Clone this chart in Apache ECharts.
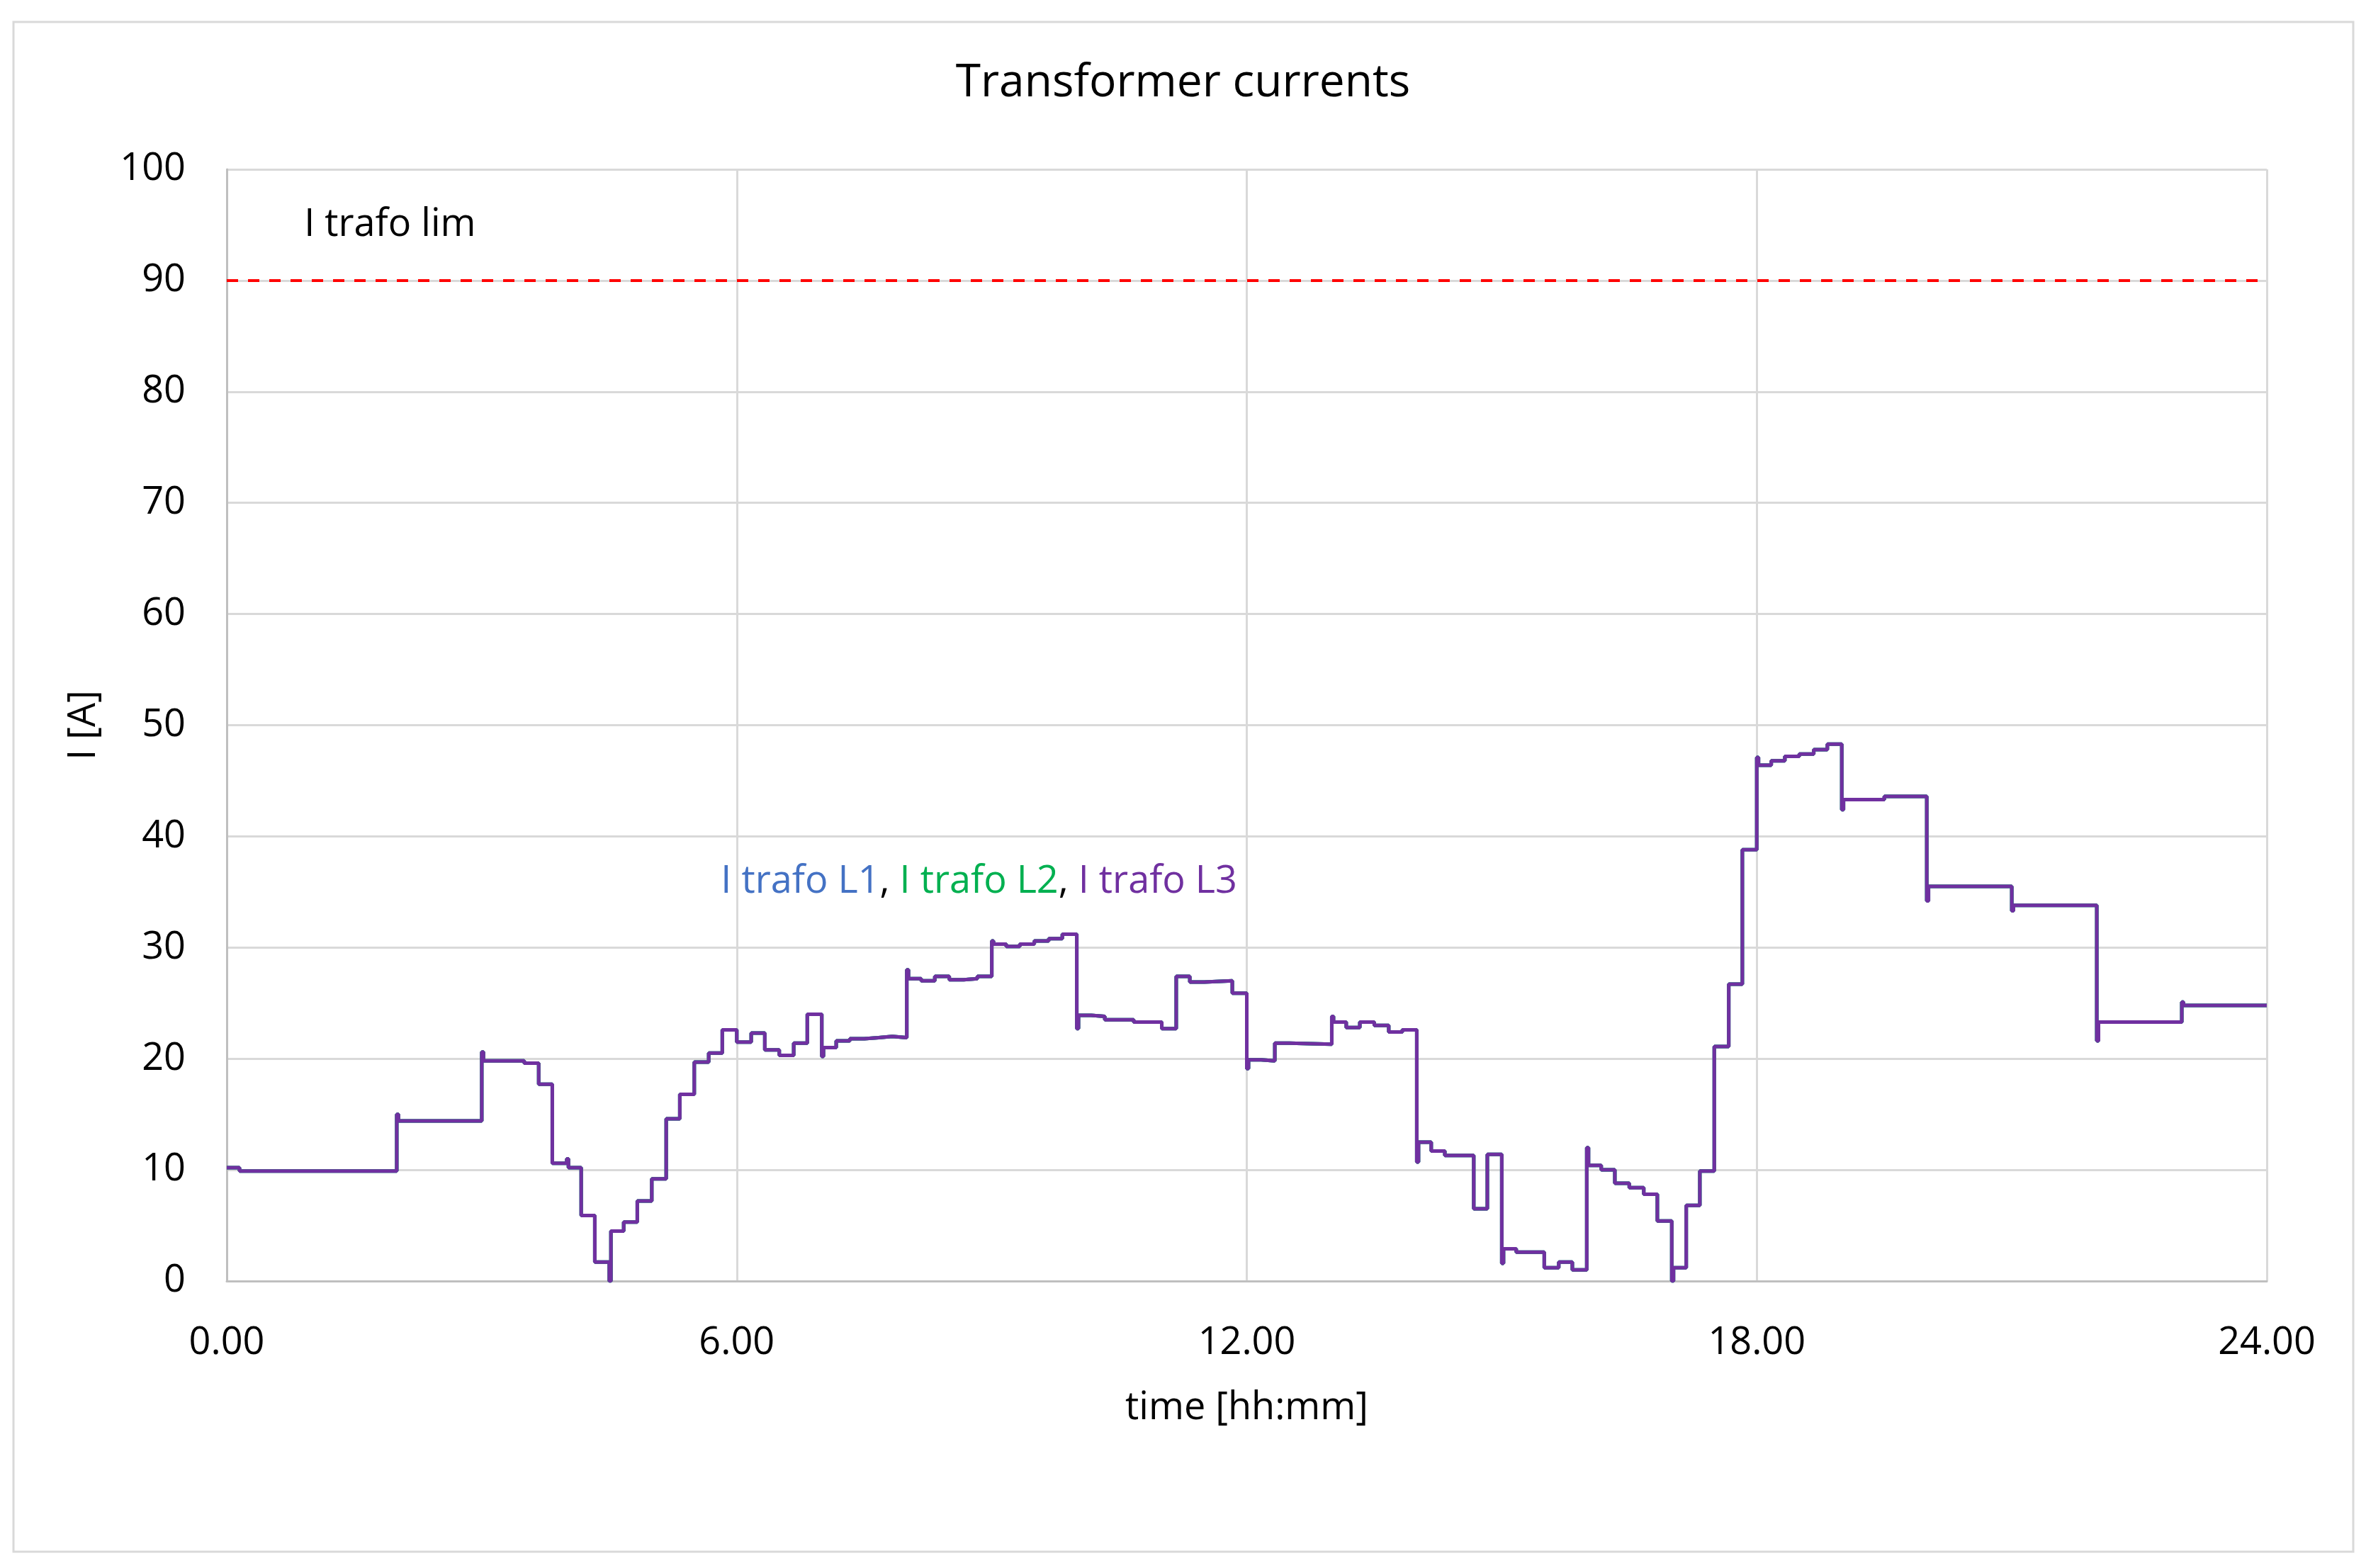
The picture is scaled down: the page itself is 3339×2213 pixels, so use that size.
<!DOCTYPE html>
<html>
<head>
<meta charset="utf-8">
<script src="https://cdn.jsdelivr.net/npm/echarts@6/dist/echarts.min.js"></script>
<style>
html,body{margin:0;padding:0;background:#fff;}
#chart{width:3339px;height:2213px;}
</style>
</head>
<body>
<div id="chart"></div>
<script>
// ---- data (time in hours, current in A; each value holds from its time until the next) ----
const timesH = [
  0.00, 0.15, 2.00, 2.02, 3.00, 3.02, 3.50, 3.67, 3.83, 4.00, 4.02, 4.17, 4.33, 4.50, 4.52,
  4.67, 4.83, 5.00, 5.17, 5.33, 5.50, 5.67, 5.83, 6.00, 6.17, 6.33, 6.50, 6.67, 6.83,
  7.00, 7.02, 7.17, 7.33, 7.50, 7.67, 7.83, 8.00, 8.02, 8.17, 8.33, 8.50, 8.67, 8.83,
  9.00, 9.02, 9.17, 9.33, 9.50, 9.67, 9.83, 10.00, 10.02, 10.17, 10.33, 10.67, 11.00,
  11.17, 11.33, 11.50, 11.83, 12.00, 12.02, 12.17, 12.33, 12.50, 13.00, 13.02, 13.17,
  13.33, 13.50, 13.67, 13.83, 14.00, 14.02, 14.17, 14.33, 14.67, 14.83, 15.00, 15.02,
  15.17, 15.50, 15.67, 15.83, 16.00, 16.02, 16.17, 16.33, 16.50, 16.67, 16.83, 17.00,
  17.02, 17.17, 17.33, 17.50, 17.67, 17.83, 18.00, 18.02, 18.17, 18.33, 18.50, 18.67,
  18.83, 19.00, 19.02, 19.50, 20.00, 20.02, 21.00, 21.02, 22.00, 22.02, 23.00, 23.02, 24.00
];
const iTrafoPhases = [
  10.2, 9.9, 15.0, 14.4, 20.6, 19.8, 19.6, 17.7, 10.6, 11.0, 10.2, 5.9, 1.7, 0.0, 4.5,
  5.3, 7.2, 9.2, 14.6, 16.8, 19.7, 20.5, 22.6, 21.5, 22.3, 20.8, 20.3, 21.4, 24.0,
  20.2, 21.0, 21.6, 21.8, 21.9, 22.0, 21.9, 28.0, 27.2, 27.0, 27.4, 27.1, 27.2, 27.4,
  30.6, 30.3, 30.1, 30.3, 30.6, 30.8, 31.2, 22.7, 23.9, 23.8, 23.5, 23.3, 22.7,
  27.4, 26.9, 27.0, 25.9, 19.1, 19.9, 19.8, 21.4, 21.3, 23.8, 23.3, 22.8,
  23.3, 23.0, 22.4, 22.6, 10.7, 12.5, 11.7, 11.3, 6.5, 11.4, 1.6, 2.9,
  2.6, 1.2, 1.7, 1.0, 12.0, 10.4, 10.0, 8.8, 8.4, 7.8, 5.4, 0.0,
  1.2, 6.8, 9.9, 21.1, 26.7, 38.8, 47.1, 46.4, 46.8, 47.2, 47.4, 47.8,
  48.3, 42.4, 43.3, 43.6, 34.2, 35.5, 33.3, 33.8, 21.6, 23.3, 25.1, 24.8, 24.8
];
// the three phase currents overlap in the picture; same readings for each
const iTrafoL1 = iTrafoPhases;
const iTrafoL2 = iTrafoPhases;
const iTrafoL3 = iTrafoPhases;

const limTimes = [0, 24];
const limValues = [90, 90];

const xTicks = [0, 6, 12, 18, 24];
const yTicks = [0, 10, 20, 30, 40, 50, 60, 70, 80, 90, 100];

const FONT = 'Open Sans';
const pairs = (xs, ys) => xs.map((x, i) => [x, ys[i]]);

const chart = echarts.init(document.getElementById('chart'), null, {renderer: 'canvas'});

const option = {
  backgroundColor: '#ffffff',
  animation: false,
  title: {
    text: 'Transformer currents',
    left: 'center',
    top: 86,
    padding: 0,
    textStyle: {fontFamily: FONT, fontSize: 64, fontWeight: 'normal', color: '#000', lineHeight: 64}
  },
  grid: {left: 320, top: 239, width: 2879, height: 1569, containLabel: false},
  xAxis: {
    type: 'value',
    min: xTicks[0], max: xTicks[xTicks.length - 1], interval: 6,
    name: 'time [hh:mm]', nameLocation: 'middle', nameGap: 153,
    nameTextStyle: {fontFamily: FONT, fontSize: 54, color: '#000', lineHeight: 54},
    axisLine: {show: true, lineStyle: {color: '#BFBFBF', width: 3}},
    axisTick: {show: false},
    axisLabel: {fontFamily: FONT, fontSize: 54, color: '#000', margin: 61, lineHeight: 54,
      formatter: v => v.toFixed(2)},
    splitLine: {show: true, lineStyle: {color: '#D9D9D9', width: 3}}
  },
  yAxis: {
    type: 'value',
    min: yTicks[0], max: yTicks[yTicks.length - 1], interval: 10,
    name: 'I [A]', nameLocation: 'middle', nameGap: 174, nameRotate: 90,
    nameTextStyle: {fontFamily: FONT, fontSize: 54, color: '#000', lineHeight: 54},
    axisLine: {show: true, lineStyle: {color: '#BFBFBF', width: 3}},
    axisTick: {show: false},
    axisLabel: {fontFamily: FONT, fontSize: 54, color: '#000', margin: 58, lineHeight: 54,
      padding: [14, 0, 0, 0]},
    splitLine: {show: true, lineStyle: {color: '#D9D9D9', width: 3}}
  },
  series: [
    {
      name: 'I trafo lim', type: 'line', data: pairs(limTimes, limValues),
      showSymbol: false, symbol: 'none',
      lineStyle: {color: '#FF0000', width: 4, type: [16, 14]}, z: 3
    },
    {
      name: 'I trafo L1', type: 'line', step: 'end', data: pairs(timesH, iTrafoL1),
      showSymbol: false, symbol: 'none', lineStyle: {color: '#4472C4', width: 5}, z: 4
    },
    {
      name: 'I trafo L2', type: 'line', step: 'end', data: pairs(timesH, iTrafoL2),
      showSymbol: false, symbol: 'none', lineStyle: {color: '#00B050', width: 5}, z: 5
    },
    {
      name: 'I trafo L3', type: 'line', step: 'end', data: pairs(timesH, iTrafoL3),
      showSymbol: false, symbol: 'none', lineStyle: {color: '#7030A0', width: 5}, z: 6
    }
  ]
};
chart.setOption(option);

// annotations positioned in data space
const limLabelPos = chart.convertToPixel({gridIndex: 0}, [1.92, 95.0]);
const phaseLabelPos = chart.convertToPixel({gridIndex: 0}, [8.85, 35.9]);

chart.setOption({
  graphic: [
    {
      type: 'rect', silent: true, z: -1,
      shape: {x: 19, y: 31, width: 3302, height: 2159},
      style: {fill: 'none', stroke: '#D9D9D9', lineWidth: 3}
    },
    {
      type: 'text', silent: true, z: 10,
      x: limLabelPos[0], y: limLabelPos[1],
      style: {text: 'I trafo lim', fontFamily: FONT, fontSize: 54, fill: '#000',
        align: 'center', verticalAlign: 'middle'}
    },
    {
      type: 'text', silent: true, z: 10,
      x: phaseLabelPos[0], y: phaseLabelPos[1],
      style: {
        text: '{b|I trafo L1}{k|, }{g|I trafo L2}{k|, }{p|I trafo L3}',
        align: 'center', verticalAlign: 'middle',
        fontFamily: FONT, fontSize: 54,
        rich: {
          b: {fill: '#4472C4', fontFamily: FONT, fontSize: 54},
          g: {fill: '#00B050', fontFamily: FONT, fontSize: 54},
          p: {fill: '#7030A0', fontFamily: FONT, fontSize: 54},
          k: {fill: '#000000', fontFamily: FONT, fontSize: 54}
        }
      }
    }
  ]
});
</script>
</body>
</html>
